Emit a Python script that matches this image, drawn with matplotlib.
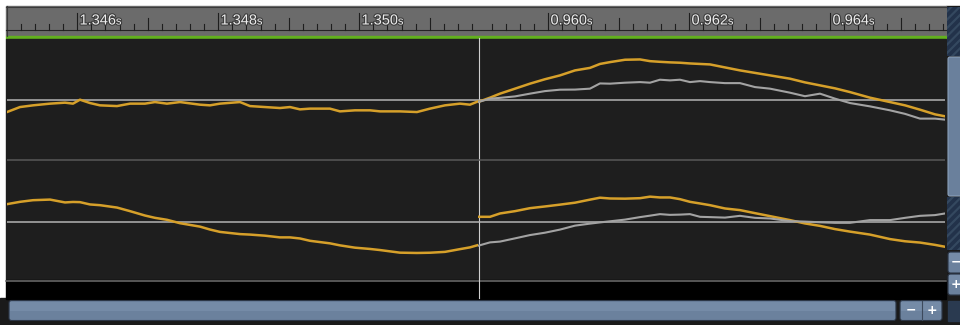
import numpy as np
import matplotlib
matplotlib.use('Agg')
import matplotlib.pyplot as plt
from matplotlib.patches import Rectangle, FancyBboxPatch
import matplotlib.patheffects as pe

plt.rcParams['hatch.linewidth'] = 1.6

W, H = 960, 325

# time span shown for each clip (ms)
clip1_range = (1345.003, 1351.684)
clip2_range = (959.003, 965.627)

# clip 1 (left) - only the edited (orange) signal
clip1_t = [1345.003, 1345.187, 1345.372, 1345.613, 1345.826, 1345.939, 1346.038, 1346.180,
           1346.322, 1346.563, 1346.748, 1346.960, 1347.102, 1347.272, 1347.457, 1347.740,
           1347.882, 1348.024, 1348.308, 1348.450, 1348.662, 1348.875, 1349.017, 1349.159,
           1349.301, 1349.584, 1349.726, 1349.939, 1350.152, 1350.294, 1350.577, 1350.818,
           1351.003, 1351.216, 1351.428, 1351.570, 1351.684]
clip1_top = [-0.200, -0.118, -0.090, -0.062, -0.046, -0.062, 0.003, -0.052,
             -0.090, -0.102, -0.062, -0.062, -0.036, -0.062, -0.036, -0.079,
             -0.090, -0.062, -0.036, -0.102, -0.118, -0.134, -0.118, -0.156,
             -0.144, -0.144, -0.189, -0.172, -0.172, -0.189, -0.189, -0.200,
             -0.144, -0.090, -0.062, -0.079, -0.025]
clip1_bot = [0.287, 0.325, 0.352, 0.362, 0.315, 0.323, 0.320, 0.282,
             0.270, 0.231, 0.172, 0.100, 0.062, 0.030, -0.026, -0.082,
             -0.130, -0.169, -0.205, -0.213, -0.231, -0.259, -0.259, -0.277,
             -0.315, -0.357, -0.390, -0.428, -0.449, -0.467, -0.510, -0.515,
             -0.511, -0.497, -0.452, -0.423, -0.385]

# clip 2 (right) - edited (orange) and original (gray) signals
clip2_t = [959.003, 959.173, 959.315, 959.528, 959.740, 959.953, 960.166, 960.379,
           960.591, 960.733, 960.875, 961.088, 961.301, 961.443, 961.584, 961.726,
           961.868, 962.010, 962.152, 962.294, 962.506, 962.719, 962.932, 963.145,
           963.428, 963.641, 963.854, 964.067, 964.279, 964.563, 964.847, 965.060,
           965.272, 965.485, 965.627]
clip2_top = [-0.036, 0.036, 0.102, 0.184, 0.266, 0.339, 0.402, 0.484,
             0.525, 0.590, 0.620, 0.659, 0.664, 0.636, 0.625, 0.616,
             0.610, 0.598, 0.590, 0.582, 0.533, 0.484, 0.443, 0.402,
             0.348, 0.287, 0.238, 0.189, 0.128, 0.036, -0.036, -0.090,
             -0.161, -0.238, -0.270]
clip2_top_orig = [-0.036, 0.020, 0.033, 0.057, 0.102, 0.144, 0.167, 0.169,
                  0.184, 0.270, 0.266, 0.282, 0.292, 0.282, 0.331, 0.320,
                  0.331, 0.292, 0.308, 0.292, 0.275, 0.275, 0.210, 0.184,
                  0.118, 0.060, 0.102, 0.020, -0.052, -0.107, -0.172, -0.230,
                  -0.308, -0.308, -0.325]
clip2_bot = [0.079, 0.079, 0.134, 0.172, 0.221, 0.249, 0.279, 0.311,
             0.361, 0.393, 0.380, 0.377, 0.385, 0.410, 0.397, 0.397,
             0.369, 0.325, 0.298, 0.270, 0.216, 0.189, 0.139, 0.090,
             0.025, -0.030, -0.070, -0.123, -0.164, -0.213, -0.287, -0.323,
             -0.344, -0.382, -0.413]
clip2_bot_orig = [-0.397, -0.341, -0.328, -0.275, -0.221, -0.182, -0.131, -0.066,
                  -0.033, -0.013, 0.005, 0.033, 0.074, 0.098, 0.123, 0.111,
                  0.115, 0.123, 0.079, 0.074, 0.066, 0.095, 0.062, 0.052,
                  0.008, 0.000, -0.011, -0.020, -0.020, 0.025, 0.025, 0.062,
                  0.095, 0.107, 0.134]

ORANGE = '#d6a02a'
GRAY = '#a3a3a3'


def px_rect(x0, y0, x1, y1):
    return [x0 / W, 1 - y1 / H, (x1 - x0) / W, (y1 - y0) / H]


def button(ax, x0, y0, w, h, color='#6b819d'):
    ax.add_patch(FancyBboxPatch((x0, y0), w, h, boxstyle='round,pad=0,rounding_size=2.5',
                                facecolor=color, edgecolor='#2c3646', lw=0.8))
    # light top half to imitate the gradient
    ax.add_patch(Rectangle((x0 + 1, y0 + 1), w - 2, h * 0.45, color='#758ba7', lw=0))


fig = plt.figure(figsize=(9.6, 3.25), dpi=100, facecolor='white')

# window chrome drawn in pixel space
ch = fig.add_axes([0, 0, 1, 1])
ch.axis('off')
ch.set_xlim(0, W)
ch.set_ylim(H, 0)
ch.add_patch(Rectangle((0, 298), W, H - 298, color='#1a1a1a'))
ch.add_patch(Rectangle((946, 6), 14, 292, color='#1a1a1a'))
ch.add_patch(Rectangle((6, 6), 940, 30, color='#6b6b6b'))
ch.plot([6, 946], [6.5, 6.5], color='#3a3a3a', lw=0.8)
ch.plot([6.5, 6.5], [6, 36], color='#3a3a3a', lw=0.8)
ch.plot([6, 946], [29.5, 29.5], color='#242424', lw=0.8)
ch.add_patch(Rectangle((6, 36), 940, 2.5, color='#62b01e'))
ch.add_patch(Rectangle((6, 38.5), 940, 242, color='#1e1e1e'))
ch.add_patch(Rectangle((6, 280), 940, 18.5, color='#000000'))
ch.plot([6, 946], [280.5, 280.5], color='#6e6e6e', lw=1.1)

# right vertical scrollbar
for y0, y1 in [(7, 56), (197, 250)]:
    ch.add_patch(Rectangle((947, y0), 14, y1 - y0, facecolor='#22324a',
                           edgecolor='#34485f', hatch='////', lw=0))
ch.add_patch(FancyBboxPatch((948, 57), 14, 139, boxstyle='round,pad=0,rounding_size=2',
                            facecolor='#6a809c', edgecolor='#8ca1bb', lw=0.8))
for y0, y1, g in [(252, 273, '\u2212'), (274, 295, '+')]:
    button(ch, 948, y0, 14, y1 - y0)
    ch.text(956, (y0 + y1) / 2, g, color='white', fontsize=9, fontweight='bold',
            ha='center', va='center')

# horizontal scrollbar and zoom buttons
button(ch, 9, 300.5, 887, 20)
button(ch, 900, 300.5, 42, 20)
ch.plot([921.5, 921.5], [301, 320], color='#3d4a5d', lw=0.8)
ch.text(911, 310.5, '\u2212', color='white', fontsize=9, fontweight='bold', ha='center', va='center')
ch.text(932, 310.5, '+', color='white', fontsize=9, fontweight='bold', ha='center', va='center')
ch.add_patch(Rectangle((948, 300.5), 12, 20, color='#2a3a50'))

# clip boundary / cursor line
ch.plot([478.5, 478.5], [38, 298], color='#cfcfcf', lw=0.8, zorder=5)

ylo, yhi = -1.959, 2.008
clips = [
    (7, 478, clip1_range, clip1_t, clip1_top, clip1_bot, None, None),
    (478, 945, clip2_range, clip2_t, clip2_top, clip2_bot, clip2_top_orig, clip2_bot_orig),
]
for x0, x1, rng, t, top, bot, top_o, bot_o in clips:
    ax = fig.add_axes(px_rect(x0, 38.5, x1, 280))
    ax.set_facecolor('none')
    ax.set_xlim(*rng)
    ax.set_ylim(ylo, yhi)
    ax.axis('off')
    ax.axhline(1, color='#b4b4b4', lw=1.1, zorder=1)
    ax.axhline(-1, color='#b4b4b4', lw=1.1, zorder=1)
    ax.axhline(0.01, color='#585858', lw=1.1, zorder=1)
    t = np.array(t)
    ax.plot(t, 1 + np.array(top), color=ORANGE, lw=1.8, zorder=3)
    ax.plot(t, -1 + np.array(bot), color=ORANGE, lw=1.8, zorder=3)
    if top_o is not None:
        ax.plot(t, 1 + np.array(top_o), color=GRAY, lw=1.5, zorder=4)
        ax.plot(t, -1 + np.array(bot_o), color=GRAY, lw=1.5, zorder=4)

    # ruler
    rl = fig.add_axes(px_rect(x0, 6, x1, 29.5))
    rl.set_facecolor('none')
    rl.axis('off')
    rl.set_xlim(*rng)
    rl.set_ylim(29.5, 6)
    for k in range(int(np.ceil(rng[0] * 5)), int(np.floor(rng[1] * 5)) + 1):
        tk = k / 5
        if k % 10 == 0:
            h = 17
        elif k % 5 == 0:
            h = 12
        else:
            h = 6
        rl.plot([tk, tk], [29.5, 29.5 - h], color='#1e1e1e', lw=0.8, clip_on=False)
        if k % 10 == 0:
            fx = [pe.withStroke(linewidth=1.6, foreground='#3c3c3c')]
            rl.annotate(f'{tk / 1000:.3f}', (tk, 24.5), xytext=(1.6, 0), textcoords='offset points',
                        color='#ececec', fontsize=10.5, family='Liberation Sans',
                        ha='left', va='baseline', path_effects=fx)
            rl.annotate('s', (tk, 24.5), xytext=(27.8, 0), textcoords='offset points',
                        color='#ececec', fontsize=8, family='Liberation Sans',
                        ha='left', va='baseline', path_effects=fx)

fig.savefig('out.png', dpi=100, facecolor='white')
